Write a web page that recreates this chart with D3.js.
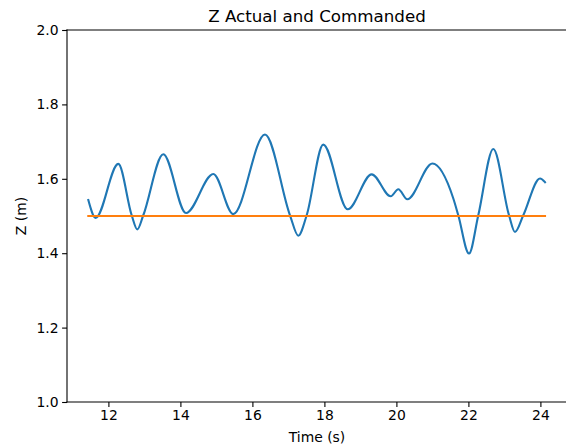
<!DOCTYPE html>
<html>
<head>
<meta charset="utf-8">
<script src="https://cdn.jsdelivr.net/npm/d3@7"></script>
<style>
    html, body { margin: 0; padding: 0; background: #ffffff; }
    #chart { width: 566px; height: 448px; position: relative; overflow: hidden; }
    text { font-family: 'DejaVu Sans', sans-serif; fill: #000000; }
</style>
</head>
<body>
<div id="chart"></div>
<script>
const timeValues = [
    11.442, 11.647, 12.275, 12.647, 12.803, 12.969, 13.525, 14.156, 14.914,
    15.469, 16.35, 17.044, 17.275, 17.508, 17.969, 18.647, 19.314, 19.842,
    20.053, 20.303, 21.0, 21.581, 21.719, 22.017, 22.275, 22.692, 23.128,
    23.294, 23.525, 23.989, 24.128,
];
const actualZ = [
    1.543, 1.495, 1.64, 1.502, 1.464, 1.502, 1.666, 1.508, 1.613,
    1.505, 1.719, 1.502, 1.447, 1.502, 1.692, 1.518, 1.612, 1.553,
    1.572, 1.545, 1.641, 1.547, 1.502, 1.399, 1.502, 1.68, 1.502,
    1.457, 1.502, 1.601, 1.591,
];
const commandedTime = [11.442, 24.128];
const commandedZ = [1.5, 1.5];
const xTicks = [12, 14, 16, 18, 20, 22, 24];
const yTicks = [1.0, 1.2, 1.4, 1.6, 1.8, 2.0];
const xDomain = [10.85, 24.85];
const yDomain = [1.0, 2.0];

class CreateZChart {
    constructor({ target }) {
        this.target = target;
        this.size = { width: 566, height: 448 };
        this.plot = { left: 67, right: 571, top: 30, bottom: 402 };
        this.init();
    }
    init() {
        this.svg = d3
            .select(`#${this.target}`)
            .append('svg')
            .attr('width', this.size.width)
            .attr('height', this.size.height);
        this.scaleInit();
        this.lineCreate();
        this.axisCreate();
        this.labelCreate();
    }
    scaleInit() {
        const { left, right, top, bottom } = this.plot;
        this.xScale = d3.scaleLinear().domain(xDomain).range([left, right]);
        this.yScale = d3.scaleLinear().domain(yDomain).range([bottom, top]);
    }
    lineCreate() {
        const line = d3
            .line()
            .x((d) => this.xScale(d[0]))
            .y((d) => this.yScale(d[1]))
            .curve(d3.curveMonotoneX);

        this.svg
            .append('path')
            .attr('d', line(timeValues.map((t, i) => [t, actualZ[i]])))
            .attr('fill', 'none')
            .attr('stroke', '#1f77b4')
            .attr('stroke-width', 2.1)
            .attr('stroke-linejoin', 'round')
            .attr('stroke-linecap', 'square');

        this.svg
            .append('path')
            .attr('d', line(commandedTime.map((t, i) => [t, commandedZ[i]])))
            .attr('fill', 'none')
            .attr('stroke', '#ff7f0e')
            .attr('stroke-width', 2.1)
            .attr('stroke-linecap', 'square');
    }
    axisCreate() {
        const { left, right, top, bottom } = this.plot;
        const xAxis = d3
            .axisBottom(this.xScale)
            .tickValues(xTicks)
            .tickSize(4.9)
            .tickPadding(3.5)
            .tickFormat(d3.format('d'));
        const yAxis = d3
            .axisLeft(this.yScale)
            .tickValues(yTicks)
            .tickSize(4.9)
            .tickPadding(3.5)
            .tickFormat(d3.format('.1f'));

        const gx = this.svg
            .append('g')
            .attr('transform', `translate(0,${bottom})`)
            .call(xAxis);
        const gy = this.svg
            .append('g')
            .attr('transform', `translate(${left},0)`)
            .call(yAxis);

        [gx, gy].forEach((g) => {
            g.select('.domain').remove();
            g.selectAll('.tick line')
                .attr('stroke', '#000000')
                .attr('stroke-width', 1.1);
            g.selectAll('.tick text')
                .attr('font-size', '13.9px')
                .attr('fill', '#000000')
                .style('font-family', "'DejaVu Sans', sans-serif");
        });

        // spines: left, bottom, top (right one falls outside the crop)
        const spines = [
            [left, top, left, bottom],
            [left, bottom, right, bottom],
            [left, top, right, top],
            [right, top, right, bottom],
        ];
        this.svg
            .selectAll('line.spine')
            .data(spines)
            .enter()
            .append('line')
            .attr('class', 'spine')
            .attr('x1', (d) => d[0])
            .attr('y1', (d) => d[1])
            .attr('x2', (d) => d[2])
            .attr('y2', (d) => d[3])
            .attr('stroke', '#000000')
            .attr('stroke-width', 1.1)
            .attr('stroke-linecap', 'square');
    }
    labelCreate() {
        const { left, right, top, bottom } = this.plot;
        this.svg
            .append('text')
            .attr('x', (left + right) / 2 - 2)
            .attr('y', 21.5)
            .attr('text-anchor', 'middle')
            .attr('font-size', '16.7px')
            .text('Z Actual and Commanded');

        this.svg
            .append('text')
            .attr('x', (left + right) / 2 - 2)
            .attr('y', 442)
            .attr('text-anchor', 'middle')
            .attr('font-size', '13.9px')
            .text('Time (s)');

        this.svg
            .append('text')
            .attr('transform', `translate(26,${(top + bottom) / 2}) rotate(-90)`)
            .attr('text-anchor', 'middle')
            .attr('font-size', '13.9px')
            .text('Z (m)');
    }
}

new CreateZChart({ target: 'chart' });
</script>
</body>
</html>
